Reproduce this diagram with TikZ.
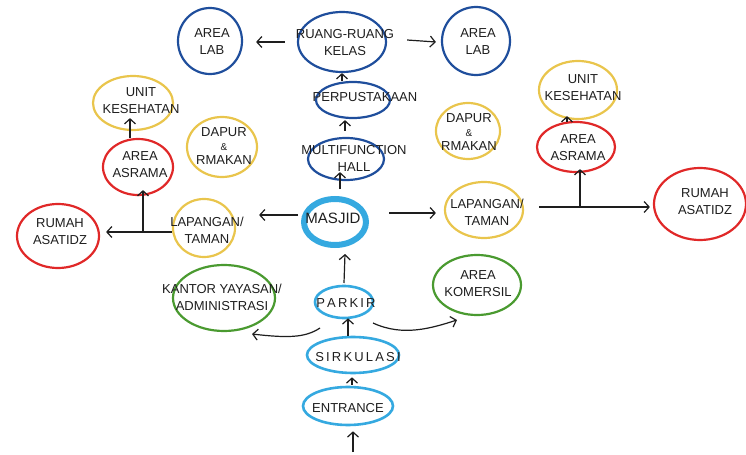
\documentclass[tikz,border=0pt]{standalone}
\usepackage{fontspec}
\setmainfont{Liberation Sans}
\usetikzlibrary{shapes.geometric, arrows.meta, calc}

\definecolor{inkblack}{HTML}{1E1E1E}
\definecolor{inkblue}{HTML}{1F4E9C}
\definecolor{inkcyan}{HTML}{35A9E0}
\definecolor{inkyellow}{HTML}{E9C54C}
\definecolor{inkred}{HTML}{E02828}
\definecolor{inkgreen}{HTML}{4A9A30}

\tikzset{
  bubble/.style={ellipse, draw, line width=1.1pt, inner sep=0pt},
  lbl/.style={align=center, font=\fontsize{6.5}{8.5}\selectfont, text=inkblack, inner sep=0pt},
  arr/.style={line width=0.6pt, draw=inkblack, -{Straight Barb[length=2.5pt,width=5.5pt]}},
  plain/.style={line width=0.6pt, draw=inkblack},
}

% bubble: name, colour, x, y, half width, half height (in drawing units)
\newcommand\bub[6]{%
  \node[bubble, draw=#2, minimum width=#5pt, minimum height=#6pt] (#1) at (#3,#4) {};}

\begin{document}
\begin{tikzpicture}[x=0.5pt, y=-0.5pt]
\useasboundingbox (0,0) rectangle (746,455);

% --- bubbles ---
\bub{labL}{inkblue}{210}{41}{32}{33}
\bub{kelas}{inkblue}{342}{42}{44}{30}
\bub{labR}{inkblue}{476}{41}{34}{34}
\bub{perpus}{inkblue}{353}{100}{37}{18}
\bub{multi}{inkblue}{346}{159}{38}{21}
\node[bubble, draw=inkcyan, line width=3pt, minimum width=31pt, minimum height=23pt] (masjid) at (335,222) {};
\bub{unitL}{inkyellow}{133}{103}{40}{27}
\bub{dapurL}{inkyellow}{222}{147}{35}{30}
\bub{asramaL}{inkred}{138}{167}{35}{28}
\bub{rumahL}{inkred}{58}{236}{41}{32}
\bub{lapL}{inkyellow}{204}{228}{31}{29}
\bub{dapurR}{inkyellow}{468}{131}{32}{28}
\bub{unitR}{inkyellow}{578}{90}{39}{29}
\bub{asramaR}{inkred}{576}{147}{39}{25}
\bub{lapR}{inkyellow}{484}{210}{39}{28}
\bub{rumahR}{inkred}{700}{204}{46}{36}
\bub{kantor}{inkgreen}{224}{298}{51}{33}
\bub{komersil}{inkgreen}{477}{285}{44}{30}
\node[bubble, draw=inkcyan, line width=1.3pt, minimum width=29pt, minimum height=16pt] (parkir) at (344,302) {};
\node[bubble, draw=inkcyan, line width=1.3pt, minimum width=46pt, minimum height=18pt] (sirkulasi) at (353,355) {};
\node[bubble, draw=inkcyan, line width=1.3pt, minimum width=45pt, minimum height=19pt] (entrance) at (348,406) {};

% --- labels ---
\node[lbl] at ($(labL)+(2,1)$) {AREA\\LAB};
\node[lbl] at ($(kelas)+(3,1)$) {RUANG-RUANG\\KELAS};
\node[lbl] at ($(labR)+(2,1)$) {AREA\\LAB};
\node[lbl] at ($(perpus)+(12,-3)$) {PERPUSTAKAAN};
\node[lbl] at ($(multi)+(8,-1)$) {MULTIFUNCTION\\HALL};
\node[lbl, font=\fontsize{7.5}{9}\selectfont] at ($(masjid)+(-2,-4)$) {MASJID};
\node[lbl] at ($(unitL)+(8,-2)$) {UNIT\\KESEHATAN};
\node[lbl, font=\fontsize{6.5}{7}\selectfont] at ($(dapurL)+(2,-1)$) {DAPUR\\{\tiny\&}\\RMAKAN};
\node[lbl] at ($(asramaL)+(2,-2)$) {AREA\\ASRAMA};
\node[lbl] at ($(rumahL)+(2,-4)$) {RUMAH\\ASATIDZ};
\node[lbl] at ($(lapL)+(3,2)$) {LAPANGAN/\\TAMAN};
\node[lbl, font=\fontsize{6.5}{7}\selectfont] at ($(dapurR)+(1,1)$) {DAPUR\\{\tiny\&}\\RMAKAN};
\node[lbl] at ($(unitR)+(5,-2)$) {UNIT\\KESEHATAN};
\node[lbl] at ($(asramaR)+(2,1)$) {AREA\\ASRAMA};
\node[lbl] at ($(lapR)+(3,2)$) {LAPANGAN/\\TAMAN};
\node[lbl] at ($(rumahR)+(5,-2)$) {RUMAH\\ASATIDZ};
\node[lbl] at ($(kantor)+(-2,-1)$) {KANTOR YAYASAN/\\ADMINISTRASI};
\node[lbl] at ($(komersil)+(1,-1)$) {AREA\\KOMERSIL};
\node[lbl] at ($(parkir)+(2,1)$) {P\,A\,R\,K\,I\,R};
\node[lbl] at ($(sirkulasi)+(5,2)$) {S\,I\,R\,K\,U\,L\,A\,S\,I};
\node[lbl] at ($(entrance)+(0,2)$) {ENTRANCE};

% --- connectors ---
\coordinate (gate) at (353,452);
\coordinate (jL) at (143,232);
\coordinate (jR) at (580,207);

\draw[arr] ($(kelas.west)+(-12,0)$) -- ($(labL.east)+(13,1)$);
\draw[arr] ($(kelas.east)+(20,-2)$) -- ($(labR.west)+(-5,1)$);
\draw[arr] ($(perpus.north)+(-11,0)$) -- ($(kelas.south)+(0,0)$);
\draw[arr] ($(multi.north)+(-1,-6)$) -- ($(perpus.south)+(-8,1)$);
\draw[arr] ($(masjid.north)+(5,-7)$) -- ($(multi.south)+(-6,-9)$);
\draw[arr] ($(masjid.east)+(20,-9)$) -- ($(lapR.west)+(-8,3)$);
\draw[arr] ($(masjid.west)+(-3,-7)$) -- ($(lapL.east)+(23,-13)$);

\draw[plain] ($(lapL.west)+(0,4)$) -- (jL);
\draw[arr] (jL) -- ($(rumahL.east)+(6,-4)$);
\draw[arr] (jL) -- ($(asramaL.south)+(5,-6)$);
\draw[arr] ($(asramaL.north)+(-8,0)$) -- ($(unitL.south)+(-3,-13)$);

\draw[plain] ($(lapR.east)+(15,-3)$) -- (jR);
\draw[arr] (jR) -- ($(rumahR.west)+(-3,3)$);
\draw[arr] (jR) -- ($(asramaR.south)+(4,-4)$);
\draw[arr] ($(asramaR.north)+(-9,1)$) -- ($(unitR.south)+(-11,-4)$);

\draw[arr] ($(parkir)+(0,-19)$) -- ($(masjid.south)+(10,6)$);
\draw[arr] ($(sirkulasi.north)+(-5,0)$) -- ($(parkir.south)+(4,-1)$);
\draw[arr] ($(entrance.north)+(4,-1)$) -- ($(sirkulasi.south)+(-1,3)$);
\draw[arr] (gate) -- ($(entrance.south)+(5,5)$);

\draw[arr] ($(parkir)+(-24,26)$) .. controls +(-15,10) and +(35,4) .. ($(kantor)+(28,36)$);
\draw[arr] ($(parkir)+(29,21)$) .. controls +(30,14) and +(-25,8) .. ($(komersil)+(-20,35)$);
\end{tikzpicture}
\end{document}
